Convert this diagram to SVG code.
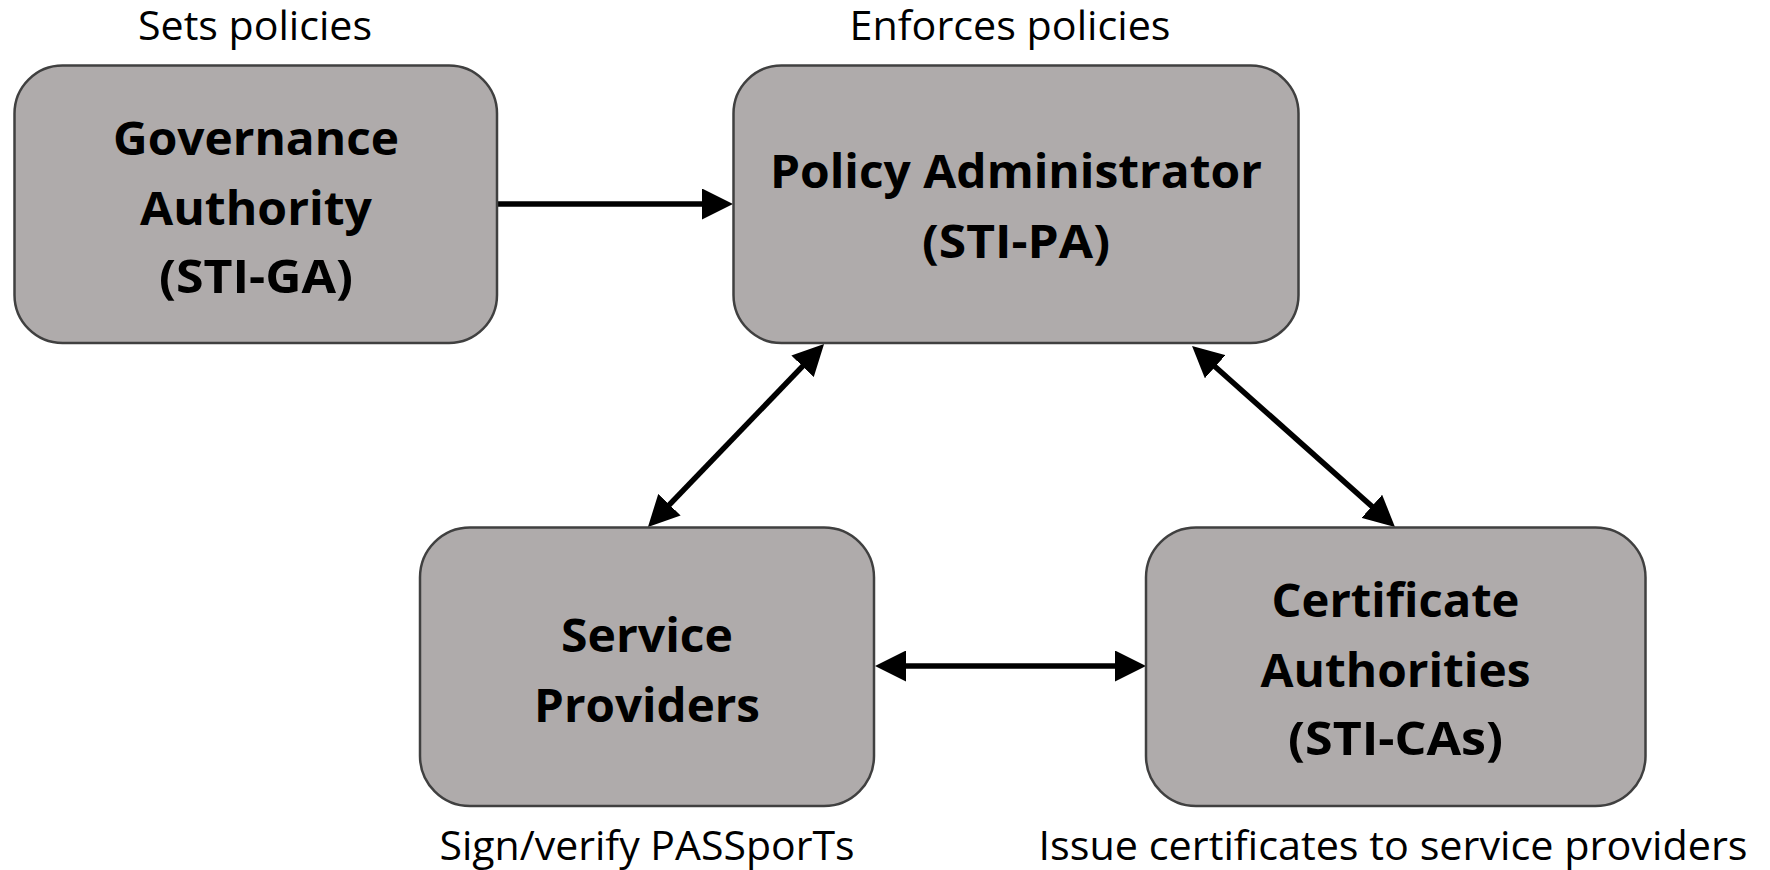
<svg xmlns="http://www.w3.org/2000/svg" width="1770" height="870" viewBox="0 0 1770 870">
<style>
.box{fill:#AFABAB;stroke:#404040;stroke-width:2.5}
.t{font-family:"Open Sans","Liberation Sans",sans-serif;font-weight:bold;font-size:46px;fill:#000;text-anchor:middle}
.l{font-family:"Open Sans","Liberation Sans",sans-serif;font-size:40px;fill:#000;text-anchor:middle}
.c{stroke:#000;stroke-width:5.5;fill:none}
</style>
<defs>
<marker id="ah" viewBox="0 0 31 31" markerWidth="31" markerHeight="31" refX="21" refY="15.5" orient="auto-start-reverse" markerUnits="userSpaceOnUse">
<path d="M0,0 L31,15.5 L0,31 z" fill="#000"/>
</marker>
</defs>
<rect width="1770" height="870" fill="#fff"/>
<g id="connectors">
<line class="c" x1="497" y1="204" x2="723" y2="204" marker-end="url(#ah)"/>
<line class="c" x1="885" y1="666" x2="1136" y2="666" marker-start="url(#ah)" marker-end="url(#ah)"/>
<line class="c" x1="817.1" y1="351.2" x2="654.9" y2="519.8" marker-start="url(#ah)" marker-end="url(#ah)"/>
<line class="c" x1="1199.5" y1="352.7" x2="1387.5" y2="520.3" marker-start="url(#ah)" marker-end="url(#ah)"/>
</g>
<g id="ga">
<rect class="box" x="14.5" y="65.5" width="482.5" height="277.5" rx="48"/>
<text class="l" x="255" y="40" textLength="234" lengthAdjust="spacingAndGlyphs">Sets policies</text>
<text class="t" x="256" y="155" textLength="286" lengthAdjust="spacingAndGlyphs">Governance</text>
<text class="t" x="256" y="225" textLength="232" lengthAdjust="spacingAndGlyphs">Authority</text>
<text class="t" x="256" y="293" textLength="194" lengthAdjust="spacingAndGlyphs">(STI-GA)</text>
</g>
<g id="pa">
<rect class="box" x="733.5" y="65.5" width="565" height="277.5" rx="48"/>
<text class="l" x="1010" y="40" textLength="321" lengthAdjust="spacingAndGlyphs">Enforces policies</text>
<text class="t" x="1016" y="188" textLength="492" lengthAdjust="spacingAndGlyphs">Policy Administrator</text>
<text class="t" x="1016" y="258" textLength="188" lengthAdjust="spacingAndGlyphs">(STI-PA)</text>
</g>
<g id="sp">
<rect class="box" x="420" y="527.5" width="454" height="278.5" rx="50"/>
<text class="t" x="647" y="652" textLength="172" lengthAdjust="spacingAndGlyphs">Service</text>
<text class="t" x="647" y="722" textLength="226" lengthAdjust="spacingAndGlyphs">Providers</text>
<text class="l" x="647" y="860" textLength="415" lengthAdjust="spacingAndGlyphs">Sign/verify PASSporTs</text>
</g>
<g id="ca">
<rect class="box" x="1146" y="527.5" width="499.5" height="278.5" rx="50"/>
<text class="t" x="1395.5" y="617" textLength="248" lengthAdjust="spacingAndGlyphs">Certificate</text>
<text class="t" x="1395.5" y="687" textLength="270" lengthAdjust="spacingAndGlyphs">Authorities</text>
<text class="t" x="1395.5" y="755" textLength="215" lengthAdjust="spacingAndGlyphs">(STI-CAs)</text>
<text class="l" x="1393" y="860" textLength="709" lengthAdjust="spacingAndGlyphs">Issue certificates to service providers</text>
</g>
</svg>
